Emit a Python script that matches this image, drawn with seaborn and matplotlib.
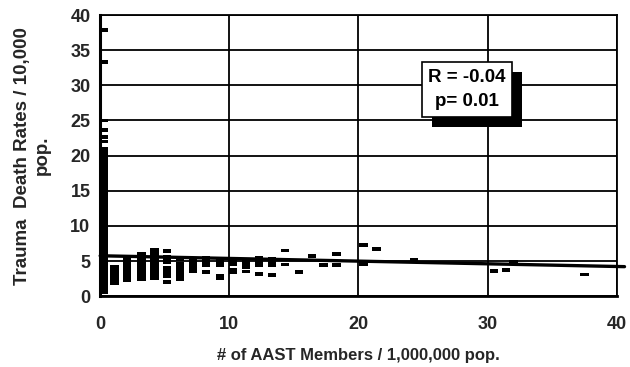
import numpy as np
import pandas as pd
import matplotlib
matplotlib.use("Agg")
import matplotlib.pyplot as plt
from matplotlib.path import Path
from matplotlib.patches import Rectangle
import seaborn as sns

# AAST members per 1,000,000 population (x) and trauma death rate per 10,000 (y)
rates_zero = [0.6, 0.9, 1.2, 1.5, 1.8, 2.1, 2.4, 2.7, 3.0, 3.3, 3.6, 3.9, 4.2,
              4.5, 4.8, 5.1, 5.4, 5.7, 6.0, 6.3, 6.6, 6.9, 7.2, 7.5, 7.8, 8.1,
              8.4, 8.7, 9.0, 9.3, 9.6, 9.9, 10.2, 10.5, 10.8, 11.1, 11.4, 11.7,
              12.0, 12.3, 12.6, 12.9, 13.2, 13.5, 13.8, 14.1, 14.4, 14.7, 15.0,
              15.3, 15.6, 15.9, 16.2, 16.5, 16.8, 17.1, 17.4, 17.7, 18.0, 18.3,
              18.6, 18.9, 19.2, 19.5, 19.8, 20.1, 20.4, 20.7, 21.0, 22.0, 22.7,
              23.6, 25.0, 33.3, 37.9]
members_zero = [0.25] * len(rates_zero)

members_low = ([1.1] * 7 + [2.1] * 9 + [3.2] * 10 + [4.2] * 11 + [5.2] * 9 +
               [6.2] * 7 + [7.2] * 5 + [8.2] * 5 + [9.3] * 5 + [10.3] * 4 +
               [11.3] * 4 + [12.3] * 5 + [13.3] * 4)
rates_low = ([1.8, 2.2, 2.6, 3.0, 3.4, 3.8, 4.2] +
             [2.3, 2.7, 3.1, 3.5, 3.9, 4.3, 4.7, 5.1, 5.5] +
             [2.4, 2.8, 3.2, 3.6, 4.0, 4.4, 4.8, 5.2, 5.6, 6.0] +
             [2.5, 2.9, 3.3, 3.7, 4.1, 4.5, 4.9, 5.3, 5.7, 6.1, 6.6] +
             [2.0, 2.8, 3.2, 3.6, 4.0, 4.8, 5.2, 5.6, 6.4] +
             [2.4, 2.8, 3.2, 3.6, 4.0, 4.6, 5.3] +
             [3.6, 4.0, 4.4, 4.8, 5.3] +
             [3.4, 4.4, 4.8, 5.1, 5.4] +
             [2.5, 2.9, 4.4, 4.8, 5.2] +
             [3.4, 3.8, 4.6, 5.1] +
             [3.5, 4.2, 4.6, 5.0] +
             [3.2, 4.4, 4.8, 5.2, 5.5] +
             [3.0, 4.4, 4.9, 5.3])

members_high = [14.3, 14.3, 15.4, 16.4, 17.3, 18.3, 18.3, 20.4, 20.4, 21.4,
                24.3, 30.5, 31.4, 32.0, 37.5]
rates_high = [6.5, 4.5, 3.4, 5.7, 4.4, 6.0, 4.4, 7.3, 4.6, 6.7,
              5.1, 3.6, 3.7, 4.9, 3.1]

# Least-squares trend line endpoints
fit_x = [0.0, 40.6]
fit_y = [5.75, 4.2]

stat_text = "R = -0.04\np= 0.01"
x_ticks = [0, 10, 20, 30, 40]
y_ticks = [0, 5, 10, 15, 20, 25, 30, 35, 40]

df = pd.DataFrame({
    "members": members_zero + members_low + members_high,
    "rate": rates_zero + rates_low + rates_high,
})

sns.set_theme(style="white")
plt.rcParams["font.family"] = ["Liberation Sans", "DejaVu Sans"]
plt.rcParams["font.weight"] = "bold"

fig = plt.figure(figsize=(6.3, 3.67), dpi=100)
ax = fig.add_axes([0.159, 0.193, 0.820, 0.766])

# short horizontal dash marker
dash = Path([(-1, -0.45), (1, -0.45), (1, 0.45), (-1, 0.45), (-1, -0.45)],
            [Path.MOVETO, Path.LINETO, Path.LINETO, Path.LINETO, Path.CLOSEPOLY])

ax.set_xlim(0, 40)
ax.set_ylim(0, 40)
ax.set_xticks(x_ticks)
ax.set_yticks(y_ticks)
ax.grid(True, color="black", linewidth=1.3)
ax.set_axisbelow(True)

sns.scatterplot(data=df, x="members", y="rate", marker=dash, s=36,
                color="black", edgecolor="none", linewidth=0, ax=ax,
                clip_on=False, zorder=3, legend=False)
sns.lineplot(x=fit_x, y=fit_y, color="black", linewidth=2.4, ax=ax,
             zorder=4).lines[-1].set_clip_on(False)

for side in ["left", "right", "top", "bottom"]:
    ax.spines[side].set_color("black")
    ax.spines[side].set_linewidth(1.3)
ax.spines["left"].set_linewidth(2.2)
ax.spines["bottom"].set_linewidth(2.0)

ax.tick_params(axis="both", which="major", direction="out", length=4,
               width=1.3, color="black", labelsize=13, pad=3)
ax.tick_params(axis="x", pad=10)
for lab in ax.get_xticklabels() + ax.get_yticklabels():
    lab.set_fontweight("bold")

ax.set_xlabel("# of AAST Members / 1,000,000 pop.", fontsize=12,
              fontweight="bold", labelpad=11)
ax.set_ylabel("Trauma  Death Rates / 10,000\npop.", fontsize=13.5,
              fontweight="bold", labelpad=14, linespacing=1.25)

# statistics box with an offset drop shadow behind it
stat = ax.text(28.4, 29.4, stat_text, ha="center", va="center",
               fontsize=13.5, fontweight="bold", color="black",
               linespacing=1.6, zorder=6,
               bbox=dict(boxstyle="square,pad=0.35", facecolor="white",
                         edgecolor="black", linewidth=1.2))
fig.canvas.draw()
bb = stat.get_bbox_patch().get_window_extent().transformed(
    ax.transAxes.inverted())
off_x = 10 / (ax.bbox.width)
off_y = 10 / (ax.bbox.height)
ax.add_patch(Rectangle((bb.x0 + off_x, bb.y0 - off_y), bb.width, bb.height,
                       transform=ax.transAxes, facecolor="black",
                       edgecolor="none", zorder=5))

fig.savefig("out.png", dpi=100)
